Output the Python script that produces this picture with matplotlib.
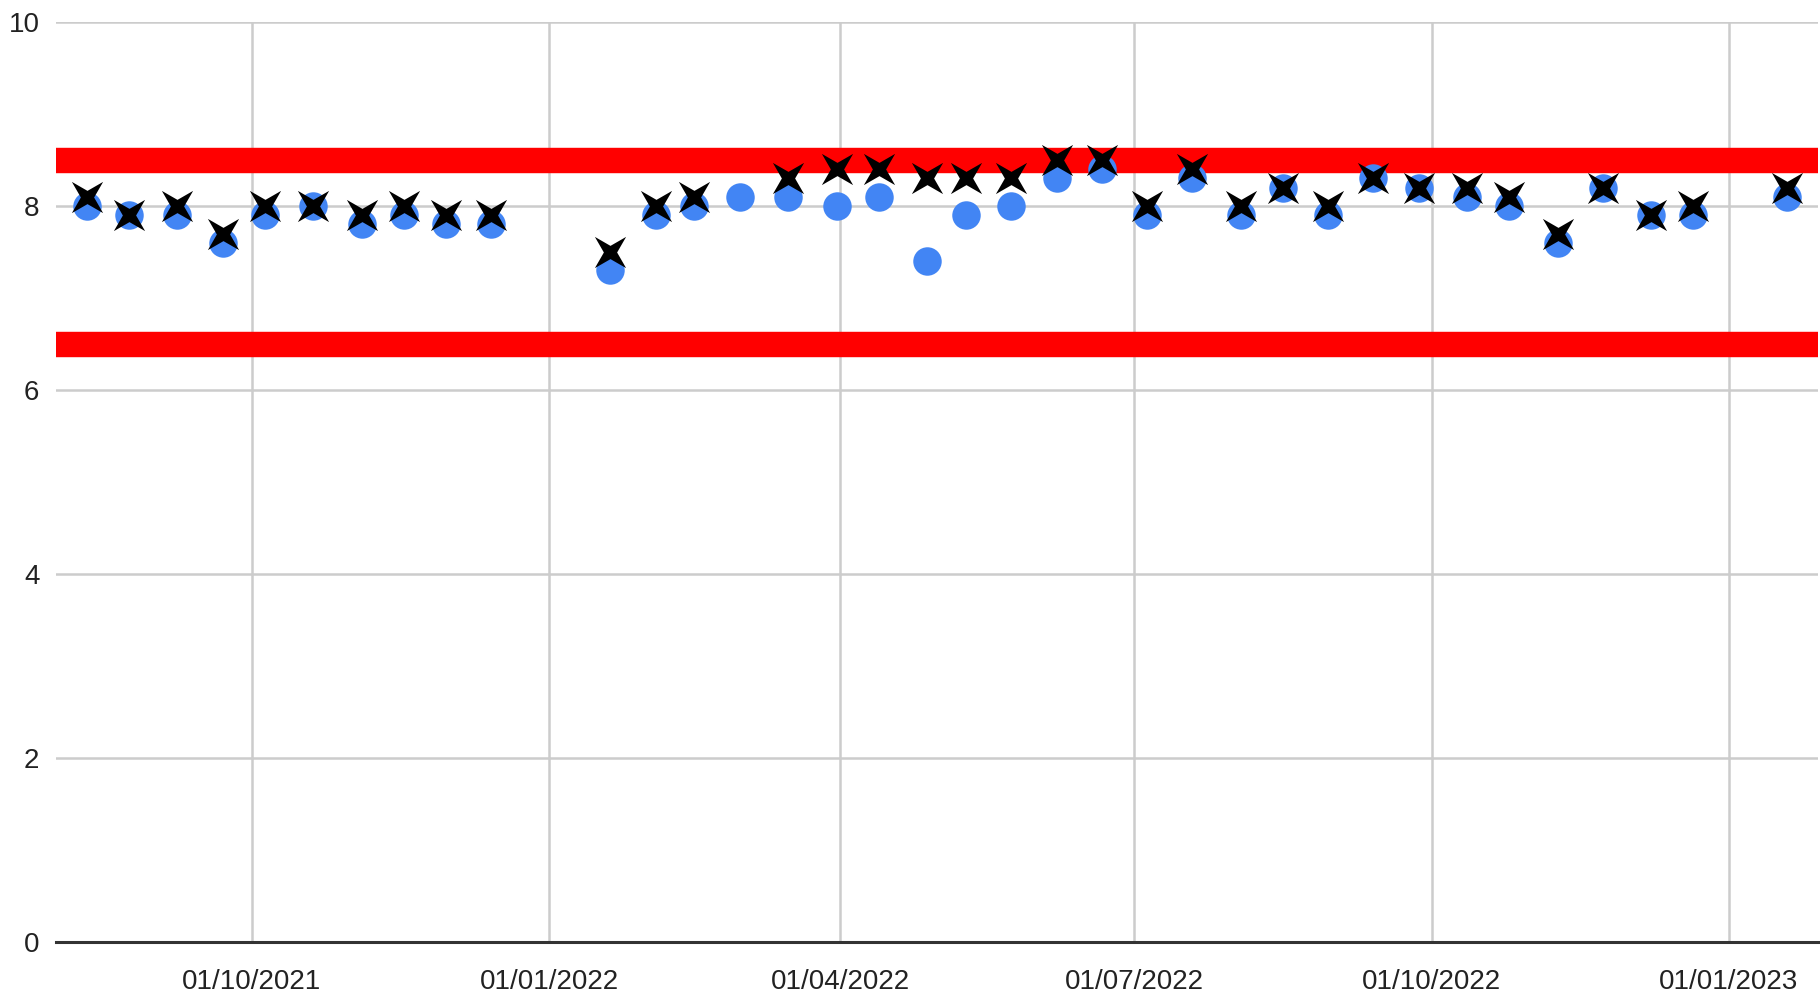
#!/usr/bin/env python3
"""Scatter of two readings over time with upper / lower limit bands"""
import numpy as np
import pandas as pd
import matplotlib
matplotlib.use("Agg")
import matplotlib.pyplot as plt
import matplotlib.dates as mdates

dates = [
    "2021-08-11", "2021-08-24", "2021-09-08", "2021-09-22", "2021-10-05",
    "2021-10-20", "2021-11-04", "2021-11-17", "2021-11-30", "2021-12-14",
    "2022-01-20", "2022-02-03", "2022-02-15", "2022-03-01", "2022-03-16",
    "2022-03-31", "2022-04-13", "2022-04-28", "2022-05-10", "2022-05-24",
    "2022-06-07", "2022-06-21", "2022-07-05", "2022-07-19", "2022-08-03",
    "2022-08-16", "2022-08-30", "2022-09-13", "2022-09-27", "2022-10-12",
    "2022-10-25", "2022-11-09", "2022-11-23", "2022-12-08", "2022-12-21",
    "2023-01-19",
]
blue_values = [
    8.0, 7.9, 7.9, 7.6, 7.9, 8.0, 7.8, 7.9, 7.8, 7.8,
    7.3, 7.9, 8.0, 8.1, 8.1, 8.0, 8.1, 7.4, 7.9, 8.0,
    8.3, 8.4, 7.9, 8.3, 7.9, 8.2, 7.9, 8.3, 8.2, 8.1,
    8.0, 7.6, 8.2, 7.9, 7.9, 8.1,
]
# None = no reading that day
cross_values = [
    8.1, 7.9, 8.0, 7.7, 8.0, 8.0, 7.9, 8.0, 7.9, 7.9,
    7.5, 8.0, 8.1, None, 8.3, 8.4, 8.4, 8.3, 8.3, 8.3,
    8.5, 8.5, 8.0, 8.4, 8.0, 8.2, 8.0, 8.3, 8.2, 8.2,
    8.1, 7.7, 8.2, 7.9, 8.0, 8.2,
]
upper_limit = 8.5
lower_limit = 6.5
y_ticks = [0, 2, 4, 6, 8, 10]

x = pd.to_datetime(dates)
cross = np.array([np.nan if v is None else v for v in cross_values])

# four pointed star turned 45 degrees, looks like the sheets "x"
ang = np.deg2rad(np.arange(8) * 45 + 45)
rad = np.where(np.arange(8) % 2 == 0, 1.0, 0.3)
star = list(zip(rad * np.cos(ang), rad * np.sin(ang)))

plt.rcParams["font.family"] = ["Liberation Sans", "DejaVu Sans"]
fig = plt.figure(figsize=(18.2, 9.98), dpi=100)
ax = fig.add_axes([0.0308, 0.0564, 0.968, 0.9216])

ax.axhline(upper_limit, color="#ff0000", linewidth=18.3, zorder=2)
ax.axhline(lower_limit, color="#ff0000", linewidth=18.3, zorder=2)
ax.plot(x, blue_values, linestyle="none", marker="o", markersize=20.5,
        color="#4285f4", markeredgewidth=0, zorder=3)
ax.plot(x, cross, linestyle="none", marker=star, markersize=22.5,
        color="black", markeredgewidth=0, zorder=4)

pad = pd.Timedelta(days=9.5)
ax.set_xlim(x[0] - pad, x[-1] + pad)
ax.set_ylim(0, 10)
ax.set_yticks(y_ticks)
ax.xaxis.set_major_locator(mdates.MonthLocator(bymonth=[1, 4, 7, 10]))
ax.xaxis.set_major_formatter(mdates.DateFormatter("%d/%m/%Y"))

ax.grid(True, color="#cccccc", linewidth=1.8, zorder=0)
ax.set_axisbelow(True)
for side in ["top", "right", "left"]:
    ax.spines[side].set_visible(False)
ax.spines["bottom"].set_color("#333333")
ax.spines["bottom"].set_linewidth(2.2)
ax.spines["bottom"].set_zorder(5)
ax.tick_params(axis="both", length=0, labelsize=20, colors="#222222")
ax.tick_params(axis="y", pad=12)
ax.tick_params(axis="x", pad=20)

plt.savefig("out.png", dpi=100)
